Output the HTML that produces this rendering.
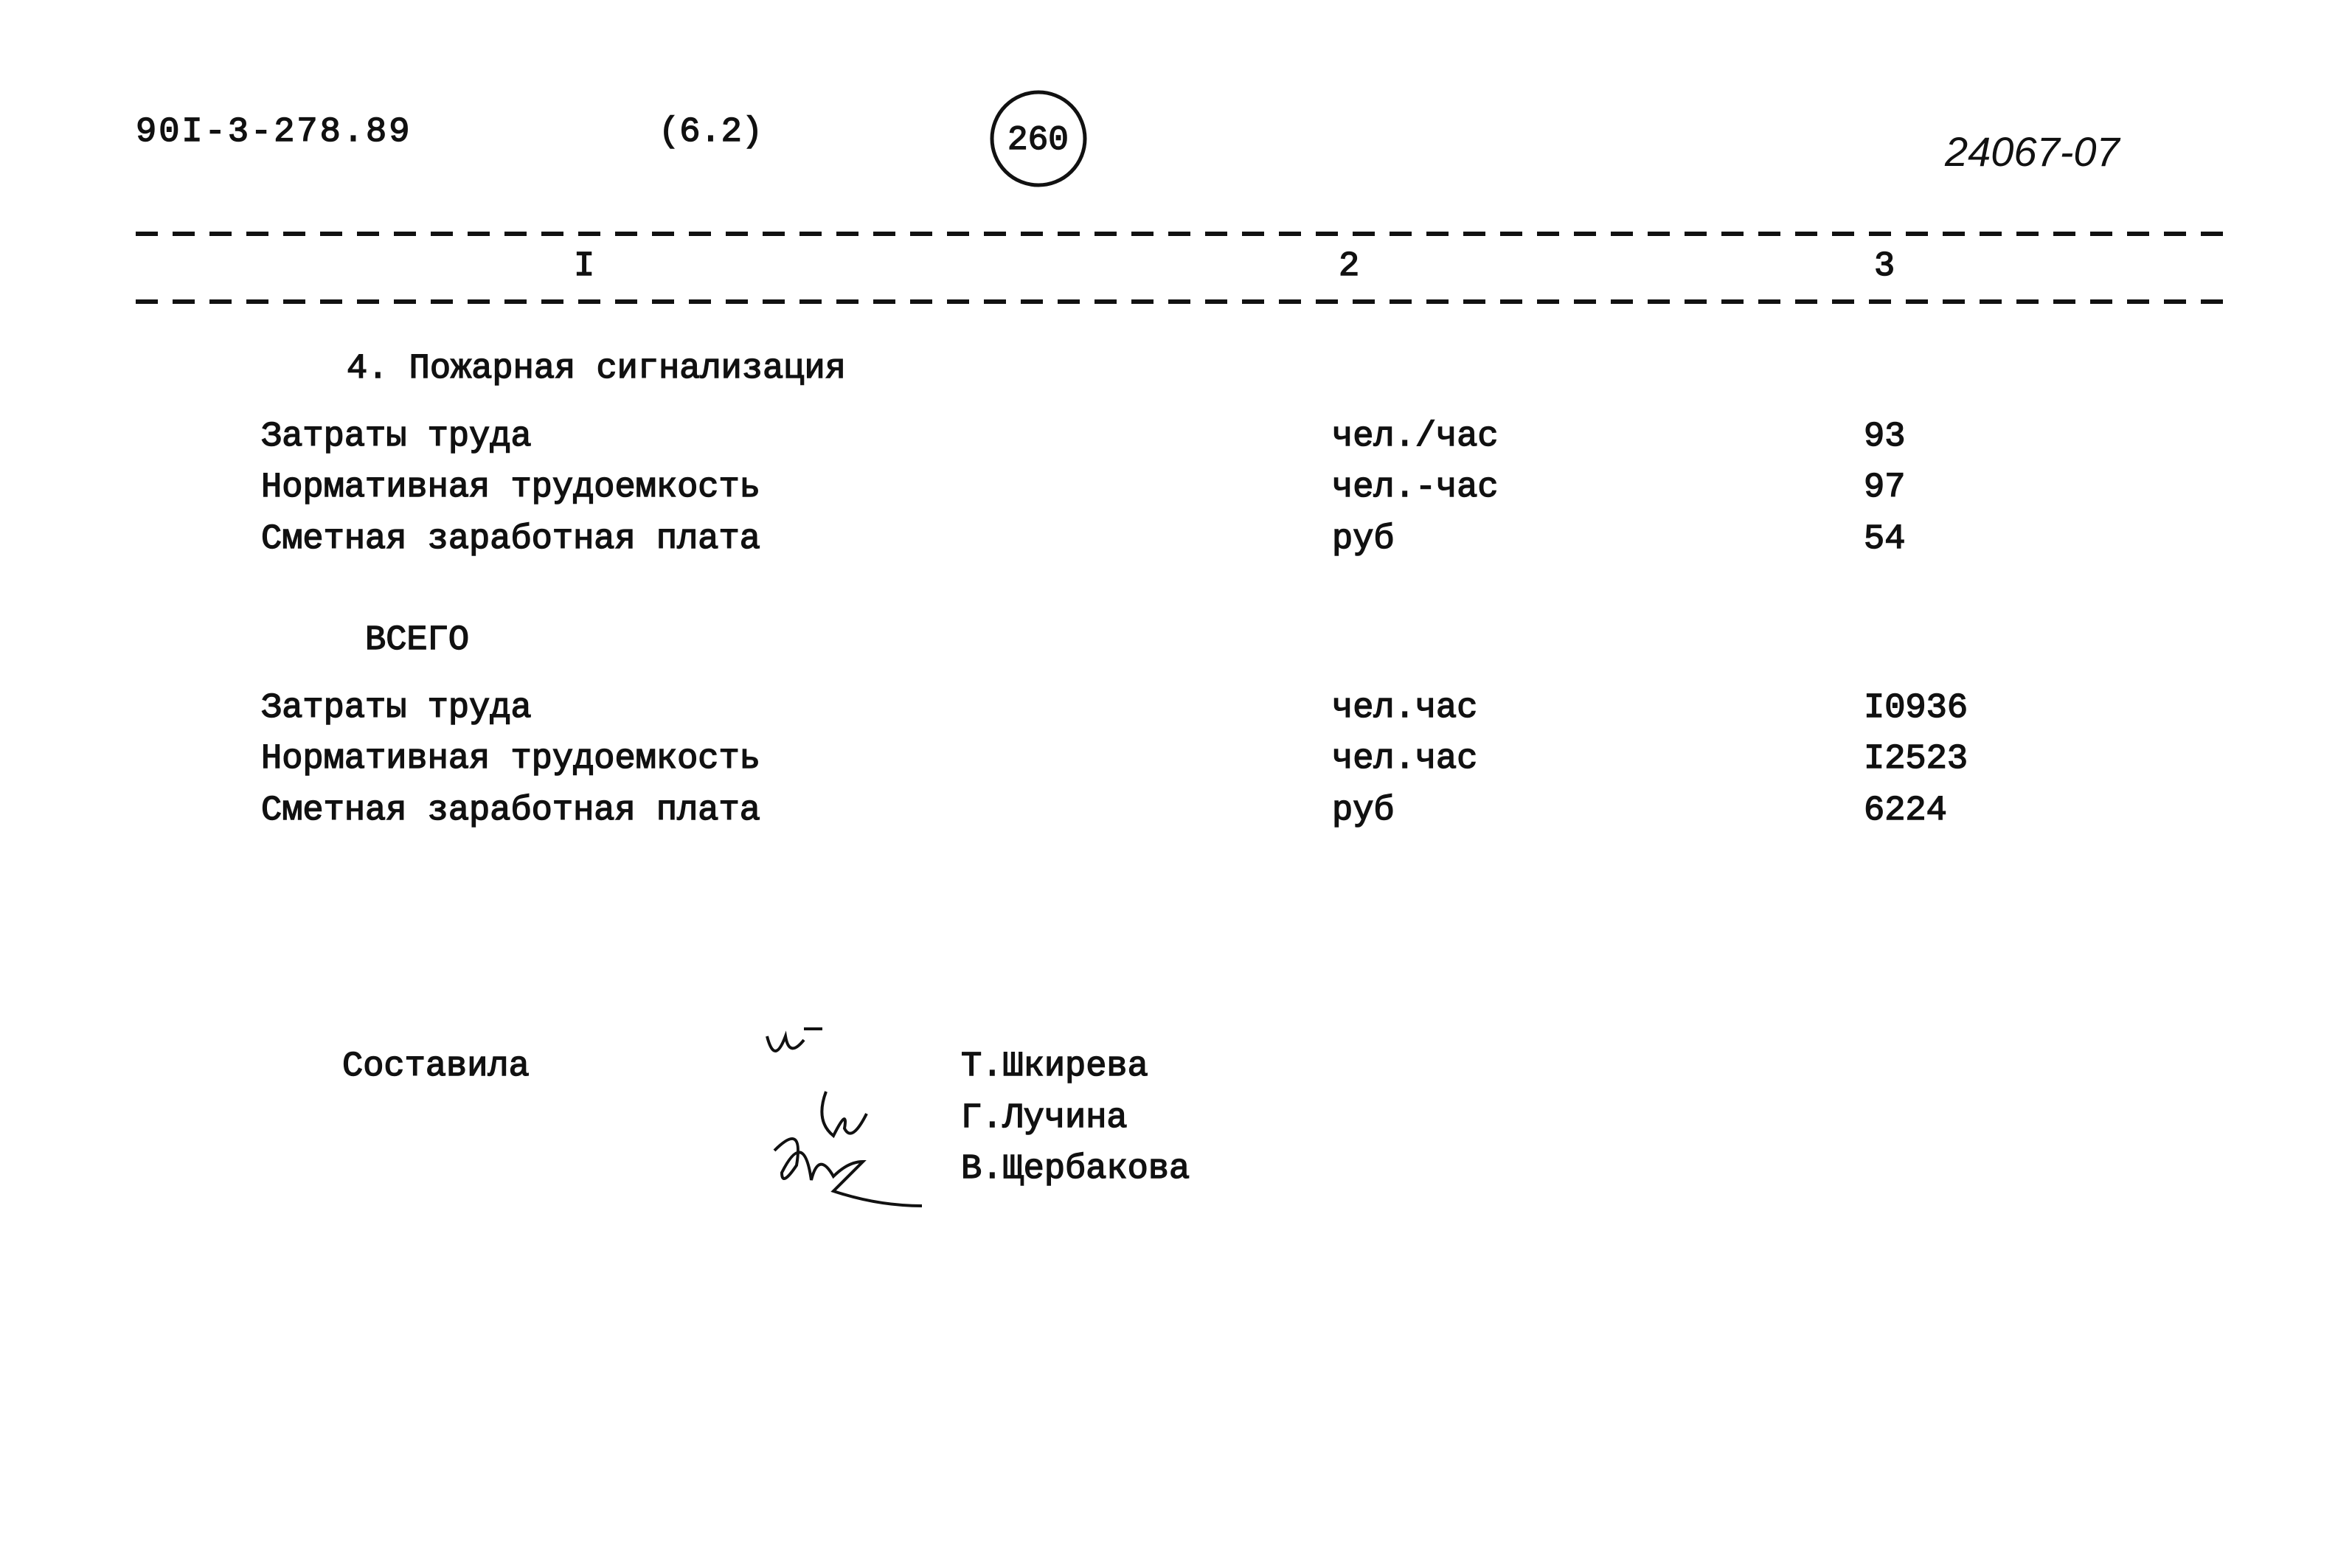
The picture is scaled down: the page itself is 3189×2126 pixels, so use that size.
<!DOCTYPE html>
<html><head><meta charset="utf-8"><style>
html,body{margin:0;padding:0;background:#fff;}
body{width:3189px;height:2126px;position:relative;overflow:hidden;font-family:"Liberation Mono","DejaVu Sans Mono",monospace;color:#111;}
.t{position:absolute;font-size:47px;line-height:56px;white-space:pre;-webkit-text-stroke:1.5px #111;}
</style></head><body>
<svg width="3189" height="2126" style="position:absolute;left:0;top:0">
<line x1="184" y1="317" x2="3021" y2="317" stroke="#111" stroke-width="6" stroke-dasharray="30 20"/>
<line x1="184" y1="409" x2="3021" y2="409" stroke="#111" stroke-width="6" stroke-dasharray="30 20"/>
<circle cx="1408" cy="188" r="63" fill="none" stroke="#111" stroke-width="5"/>
<path d="M1040 1405 q10 40 25 0 q5 30 25 5 M1090 1395 h25" stroke="#111" stroke-width="4" fill="none"/>
<path d="M1120 1480 q-15 40 10 60 q20 -40 15 -10 q10 20 30 -20" stroke="#111" stroke-width="4" fill="none"/>
<path d="M1050 1560 q40 -40 30 20 q-20 30 -20 10 q30 -60 40 10 q10 -40 30 -5 q20 -20 40 -20 l-40 40 q60 20 120 20" stroke="#111" stroke-width="4" fill="none"/>
</svg>
<div class="t" style="left:184px;top:152px;letter-spacing:3px">90I-3-278.89</div>
<div class="t" style="left:893px;top:152px">(6.2)</div>
<div class="t" style="left:1366px;top:162px;font-size:46px">260</div>
<div class="t" style="left:2637px;top:178px;font-size:56px;font-style:italic;font-family:'Liberation Sans',sans-serif;-webkit-text-stroke:0">24067-07</div>
<div class="t" style="left:778px;top:334px">I</div>
<div class="t" style="left:1815px;top:334px">2</div>
<div class="t" style="left:2541px;top:334px">3</div>
<div class="t" style="left:470px;top:473px">4. Пожарная сигнализация</div>
<div class="t" style="left:354px;top:565px">Затраты труда</div>
<div class="t" style="left:354px;top:634px">Нормативная трудоемкость</div>
<div class="t" style="left:354px;top:704px">Сметная заработная плата</div>
<div class="t" style="left:1806px;top:565px">чел./час</div>
<div class="t" style="left:1806px;top:634px">чел.-час</div>
<div class="t" style="left:1806px;top:704px">руб</div>
<div class="t" style="left:2527px;top:565px">93</div>
<div class="t" style="left:2527px;top:634px">97</div>
<div class="t" style="left:2527px;top:704px">54</div>
<div class="t" style="left:495px;top:841px">ВСЕГО</div>
<div class="t" style="left:354px;top:933px">Затраты труда</div>
<div class="t" style="left:354px;top:1002px">Нормативная трудоемкость</div>
<div class="t" style="left:354px;top:1072px">Сметная заработная плата</div>
<div class="t" style="left:1806px;top:933px">чел.час</div>
<div class="t" style="left:1806px;top:1002px">чел.час</div>
<div class="t" style="left:1806px;top:1072px">руб</div>
<div class="t" style="left:2527px;top:933px">I0936</div>
<div class="t" style="left:2527px;top:1002px">I2523</div>
<div class="t" style="left:2527px;top:1072px">6224</div>
<div class="t" style="left:464px;top:1419px">Составила</div>
<div class="t" style="left:1303px;top:1419px">Т.Шкирева</div>
<div class="t" style="left:1303px;top:1489px">Г.Лучина</div>
<div class="t" style="left:1303px;top:1558px">В.Щербакова</div>
</body></html>
